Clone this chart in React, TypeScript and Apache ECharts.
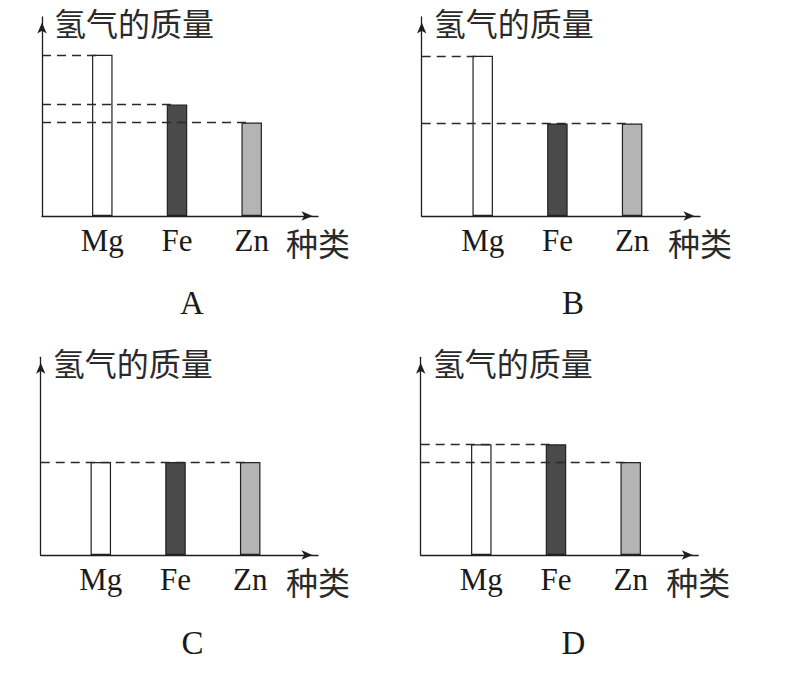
import React, { useEffect, useRef } from "react";
import * as echarts from "echarts";

// ---- data ----
const categories = ["Mg", "Fe", "Zn"];
const panelLetters = ["A", "B", "C", "D"];
const valuesA = [81, 56, 47];
const valuesB = [80.5, 46.5, 46.5];
const valuesC = [47, 47, 47];
const valuesD = [56, 56, 47];
const panelValues = [valuesA, valuesB, valuesC, valuesD];
const yMax = 100;
const yAxisName = "氢气的质量";
const xAxisName = "种类";

// ---- styles / layout ----
const barFills = ["#ffffff", "#4a4a4a", "#b4b4b4"];
const ink = "#1e1e1e";
const cjkFont = "'Noto Sans CJK SC', 'Noto Sans', sans-serif";
const serifFont = "'Liberation Serif', 'DejaVu Serif', serif";
const step = 74.7;
const layout = [
  { ax: 42, top: 17, base: 216, tip: 318, c0: 102.3, lx: 192, ly: 302.5 },
  { ax: 421.7, top: 17, base: 216, tip: 700, c0: 482.7, lx: 573, ly: 303 },
  { ax: 40.7, top: 357.3, base: 555, tip: 318, c0: 100.8, lx: 192.5, ly: 642.5 },
  { ax: 420.7, top: 357.3, base: 555, tip: 698.3, c0: 481.3, lx: 573.3, ly: 642.5 },
];

function buildOption() {
  const grid: any[] = [];
  const xAxis: any[] = [];
  const yAxis: any[] = [];
  const series: any[] = [];
  const arrowLine = {
    show: true,
    symbol: ["none", "arrow"],
    symbolSize: [7, 11],
    symbolOffset: [0, -5.5],
    lineStyle: { color: ink, width: 1.3 },
  };
  layout.forEach((p, i) => {
    const h = p.base - p.top;
    const values = panelValues[i];
    // frame grid (axes with arrows)
    grid.push({ left: p.ax, top: p.top, width: p.tip - p.ax, height: h });
    // data grid (bars, category labels)
    grid.push({ left: p.c0 - step / 2, top: p.top, width: step * categories.length, height: h });
    xAxis.push({
      gridIndex: 2 * i,
      type: "value",
      min: 0,
      max: 1,
      axisLine: arrowLine,
      axisTick: { show: false },
      axisLabel: { show: false },
      splitLine: { show: false },
      name: xAxisName,
      nameLocation: "end",
      nameGap: -32,
      nameTextStyle: {
        align: "left",
        verticalAlign: "top",
        lineHeight: 52,
        fontSize: 32,
        fontFamily: cjkFont,
        color: "#2a2a2a",
      },
    });
    xAxis.push({
      gridIndex: 2 * i + 1,
      type: "category",
      data: categories,
      axisLine: { show: false },
      axisTick: { show: false },
      axisLabel: { margin: 9, fontSize: 31, fontFamily: serifFont, color: "#1a1a1a" },
    });
    yAxis.push({
      gridIndex: 2 * i,
      type: "value",
      min: 0,
      max: yMax,
      axisLine: arrowLine,
      axisTick: { show: false },
      axisLabel: { show: false },
      splitLine: { show: false },
      name: yAxisName,
      nameLocation: "end",
      nameGap: -5,
      nameTextStyle: {
        align: "left",
        verticalAlign: "middle",
        padding: [0, 0, 0, 12],
        fontSize: 32,
        fontFamily: cjkFont,
        color: "#2a2a2a",
      },
    });
    yAxis.push({ gridIndex: 2 * i + 1, type: "value", min: 0, max: yMax, show: false });

    const lines: any[] = [];
    values.forEach((v, j) => {
      const later = values.slice(j + 1).some((w) => w === v);
      if (!later) {
        lines.push([
          { x: p.ax, yAxis: v },
          { xAxis: categories[j], yAxis: v },
        ]);
      }
    });

    series.push({
      type: "bar",
      xAxisIndex: 2 * i + 1,
      yAxisIndex: 2 * i + 1,
      barWidth: 20.5,
      silent: true,
      data: values.map((v, j) => ({
        value: v,
        itemStyle: { color: barFills[j], borderColor: "#222", borderWidth: 1.2 },
      })),
      markLine: {
        silent: true,
        symbol: ["none", "none"],
        label: { show: false },
        lineStyle: { type: [9, 6], color: "#2a2a2a", width: 1.3 },
        data: lines,
      },
    });
  });

  const graphic = panelLetters.map((l, i) => ({
    type: "text",
    x: layout[i].lx,
    y: layout[i].ly,
    style: {
      text: l,
      fontSize: 33,
      fontFamily: serifFont,
      fill: "#1a1a1a",
      align: "center",
      verticalAlign: "middle",
    },
  }));

  return {
    animation: false,
    backgroundColor: "#ffffff",
    grid,
    xAxis,
    yAxis,
    series,
    graphic,
  };
}

export default function App() {
  const ref = useRef<HTMLDivElement>(null);
  useEffect(() => {
    if (!ref.current) return;
    const chart = echarts.init(ref.current, undefined, { renderer: "svg" });
    chart.setOption(buildOption() as any);
    return () => chart.dispose();
  }, []);
  return (
    <div
      ref={ref}
      style={{ position: "absolute", left: 0, top: 0, width: 801, height: 682, background: "#fff" }}
    />
  );
}
